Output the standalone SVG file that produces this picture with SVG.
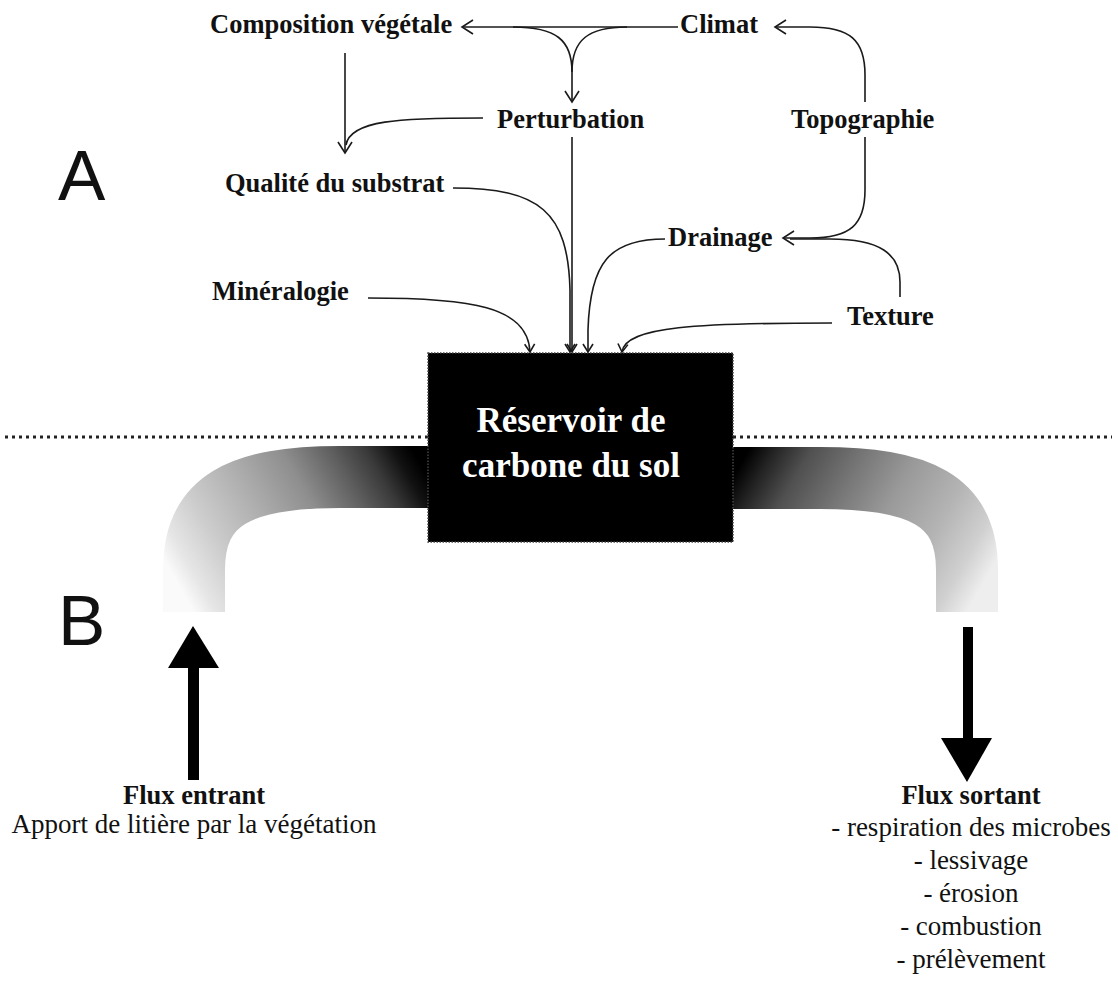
<svg xmlns="http://www.w3.org/2000/svg" width="1118" height="981" viewBox="0 0 1118 981">
  <style>
    .lbl { font-family: "Liberation Serif", "Times New Roman", serif; font-weight: bold; font-size: 26.5px; fill: #111; }
    .txt { font-family: "Liberation Serif", "Times New Roman", serif; font-size: 27px; fill: #111; }
    .big { font-family: "Liberation Sans", Arial, sans-serif; font-size: 71px; fill: #111; }
    .box-t { font-family: "Liberation Serif", "Times New Roman", serif; font-weight: bold; font-size: 35px; fill: #fff; }
    .con { fill: none; stroke: #1a1a1a; stroke-width: 1.6; }
    .tip { fill: none; stroke: #1a1a1a; stroke-width: 1.6; stroke-linejoin: miter; }
  </style>
  <defs>
    <marker id="arr" markerUnits="userSpaceOnUse" markerWidth="24" markerHeight="24" refX="0" refY="0" orient="auto" overflow="visible">
      <path class="tip" d="M -11 -7 L 0 0 L -11 7"/>
    </marker>
    <marker id="arrs" markerUnits="userSpaceOnUse" markerWidth="16" markerHeight="16" refX="0" refY="0" orient="auto" overflow="visible">
      <path class="tip" d="M -8 -5 L 0 0 L -8 5"/>
    </marker>
    <linearGradient id="gIn" gradientUnits="userSpaceOnUse" x1="428" y1="477" x2="194" y2="612">
      <stop offset="0" stop-color="#000"/>
      <stop offset="0.06" stop-color="#111"/>
      <stop offset="0.15" stop-color="#3a3a3a"/>
      <stop offset="0.26" stop-color="#5e5e5e"/>
      <stop offset="0.42" stop-color="#8e8e8e"/>
      <stop offset="0.6" stop-color="#adadad"/>
      <stop offset="0.8" stop-color="#cdcdcd"/>
      <stop offset="0.93" stop-color="#e6e6e6"/>
      <stop offset="1" stop-color="#fafafa"/>
    </linearGradient>
    <linearGradient id="gOut" gradientUnits="userSpaceOnUse" x1="733" y1="477" x2="967" y2="612">
      <stop offset="0" stop-color="#000"/>
      <stop offset="0.08" stop-color="#222"/>
      <stop offset="0.2" stop-color="#505050"/>
      <stop offset="0.38" stop-color="#777"/>
      <stop offset="0.55" stop-color="#999"/>
      <stop offset="0.75" stop-color="#b4b4b4"/>
      <stop offset="0.9" stop-color="#d0d0d0"/>
      <stop offset="1" stop-color="#eeeeee"/>
    </linearGradient>
  </defs>

  <rect width="1118" height="981" fill="#fff"/>

  <!-- section letters -->
  <text class="big" x="58" y="200">A</text>
  <text class="big" x="58" y="645">B</text>

  <!-- ground surface line -->
  <line x1="5" y1="437" x2="1112" y2="437" stroke="#222" stroke-width="3" stroke-dasharray="3 4"/>

  <!-- carbon flux bands -->
  <g id="band-in">
    <path d="M 430 477 H 340 C 240 477 194 500 194 570 V 612" fill="none" stroke="url(#gIn)" stroke-width="62"/>
  </g>
  <g id="band-out">
    <path d="M 731 478 H 820 C 920 478 967 500 967 570 V 612" fill="none" stroke="url(#gOut)" stroke-width="62"/>
  </g>

  <!-- soil carbon pool -->
  <g id="reservoir">
    <rect x="428" y="353" width="305" height="189" fill="#000" stroke="#444" stroke-width="1.5" stroke-dasharray="1.5 1.5"/>
    <text class="box-t" x="571" y="432" text-anchor="middle">Réservoir de</text>
    <text class="box-t" x="571" y="477" text-anchor="middle">carbone du sol</text>
  </g>

  <!-- controlling factors -->
  <g id="composition"><text class="lbl" x="210" y="33">Composition végétale</text></g>
  <g id="climat"><text class="lbl" x="680" y="33">Climat</text></g>
  <g id="perturbation"><text class="lbl" x="497" y="128">Perturbation</text></g>
  <g id="topographie"><text class="lbl" x="791" y="128">Topographie</text></g>
  <g id="qualite"><text class="lbl" x="225" y="192">Qualité du substrat</text></g>
  <g id="drainage"><text class="lbl" x="668" y="246">Drainage</text></g>
  <g id="mineralogie"><text class="lbl" x="212" y="300">Minéralogie</text></g>
  <g id="texture"><text class="lbl" x="847" y="325">Texture</text></g>

  <!-- connectors -->
  <g id="connectors">
    <path class="con" d="M 678 27 H 462" marker-end="url(#arr)"/>
    <path class="con" d="M 513 27 C 556 27 572 40 572 72"/>
    <path class="con" d="M 627 27 C 588 27 572 40 572 72 V 102" marker-end="url(#arr)"/>
    <path class="con" d="M 345 53 V 153" marker-end="url(#arr)"/>
    <path class="con" d="M 483 118 C 400 118 350 120 346 145"/>
    <path class="con" d="M 572 137 V 352" marker-end="url(#arrs)"/>
    <path class="con" d="M 453 188 C 540 188 568 212 570 290 V 352" marker-end="url(#arrs)"/>
    <path class="con" d="M 368 298 C 470 298 528 306 530 352" marker-end="url(#arrs)"/>
    <path class="con" d="M 665 239 C 610 239 590 262 588 330 V 352" marker-end="url(#arrs)"/>
    <path class="con" d="M 832 323 C 700 323 625 326 622 352" marker-end="url(#arrs)"/>
    <path class="con" d="M 865 102 V 75 C 865 40 850 27 810 27 H 775" marker-end="url(#arr)"/>
    <path class="con" d="M 865 137 V 190 C 865 225 850 238 810 238 H 783" marker-end="url(#arr)"/>
    <path class="con" d="M 900 297 V 282 C 900 254 880 239 830 239 H 790"/>
  </g>

  <!-- inflow -->
  <g id="flux-entrant">
    <rect x="188" y="666" width="11" height="114" fill="#000"/>
    <polygon points="193,626 219,668 168,668" fill="#000"/>
    <text class="lbl" x="194" y="804" text-anchor="middle">Flux entrant</text>
    <text class="txt" x="194" y="833" text-anchor="middle">Apport de litière par la végétation</text>
  </g>

  <!-- outflow -->
  <g id="flux-sortant">
    <rect x="963" y="627" width="10" height="113" fill="#000"/>
    <polygon points="941,738 992,738 967,782" fill="#000"/>
    <text class="lbl" x="971" y="804" text-anchor="middle">Flux sortant</text>
    <text class="txt" x="971" y="836" text-anchor="middle">- respiration des microbes</text>
    <text class="txt" x="971" y="869" text-anchor="middle">- lessivage</text>
    <text class="txt" x="971" y="902" text-anchor="middle">- érosion</text>
    <text class="txt" x="971" y="935" text-anchor="middle">- combustion</text>
    <text class="txt" x="971" y="968" text-anchor="middle">- prélèvement</text>
  </g>
</svg>
